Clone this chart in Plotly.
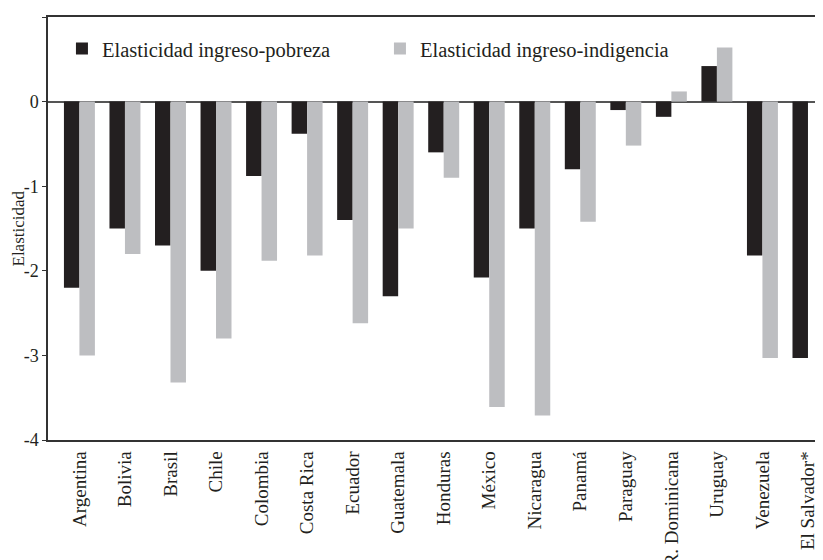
import plotly.graph_objects as go

countries = ["Argentina", "Bolivia", "Brasil", "Chile", "Colombia", "Costa Rica",
             "Ecuador", "Guatemala", "Honduras", "México", "Nicaragua", "Panamá",
             "Paraguay", "R. Dominicana", "Uruguay", "Venezuela", "El Salvador*"]
pobreza = [-2.2, -1.5, -1.7, -2.0, -0.88, -0.38, -1.4, -2.3, -0.6, -2.08, -1.5,
           -0.8, -0.1, -0.18, 0.42, -1.82, -3.03]
indigencia = [-3.0, -1.8, -3.32, -2.8, -1.88, -1.82, -2.62, -1.5, -0.9, -3.61, -3.71,
              -1.42, -0.52, 0.12, 0.64, -3.03, None]
y_ticks = [1, 0, -1, -2, -3, -4]
y_ticktext = ["1", "0", "-1", "-2", "-3", "-4"]
y_title = "Elasticidad"

FONT = "Liberation Serif"

fig = go.Figure()
fig.add_trace(go.Bar(x=countries, y=pobreza, name="Elasticidad ingreso-pobreza",
                     marker=dict(color="#231F20", line=dict(width=0))))
fig.add_trace(go.Bar(x=countries, y=indigencia, name="Elasticidad ingreso-indigencia",
                     marker=dict(color="#BDBEC1", line=dict(width=0))))

# page body has an 8px margin, so the figure is sized/offset to compensate
fig.update_layout(
    width=815, height=552,
    margin=dict(l=40, r=0, t=9, b=120, autoexpand=False),
    paper_bgcolor="white", plot_bgcolor="white",
    barmode="group", bargap=0.32, bargroupgap=0,
    font=dict(family=FONT, color="#231F20", size=18),
    showlegend=True,
    legend=dict(orientation="h", x=0.018, y=0.925, xanchor="left", yanchor="middle",
                font=dict(family=FONT, size=20.5, color="#231F20"),
                entrywidth=273, entrywidthmode="pixels",
                bgcolor="rgba(0,0,0,0)", traceorder="normal"),
)
fig.add_annotation(text=y_title, xref="paper", yref="paper", x=0, y=0.5,
                   xanchor="center", yanchor="middle", xshift=-30, textangle=-90,
                   showarrow=False, borderpad=0,
                   font=dict(family=FONT, size=17, color="#231F20"))
fig.update_xaxes(
    type="category", range=[-0.69, 16.33], automargin=False,
    tickangle=-90, showline=True, linecolor="#333333", linewidth=1.5,
    mirror=True, ticks="", showgrid=False, zeroline=False,
    tickfont=dict(family=FONT, size=19, color="#231F20"),
    ticklabelstandoff=2,
)
fig.update_yaxes(
    range=[-4, 1], tickvals=y_ticks, ticktext=y_ticktext, automargin=False,
    showline=True, linecolor="#333333", linewidth=1.5,
    ticks="outside", ticklen=4, tickcolor="#333333",
    showgrid=False, zeroline=True, zerolinecolor="#555555", zerolinewidth=1.5,
    tickfont=dict(family=FONT, size=18, color="#231F20"),
)
fig.write_html("out.html")
